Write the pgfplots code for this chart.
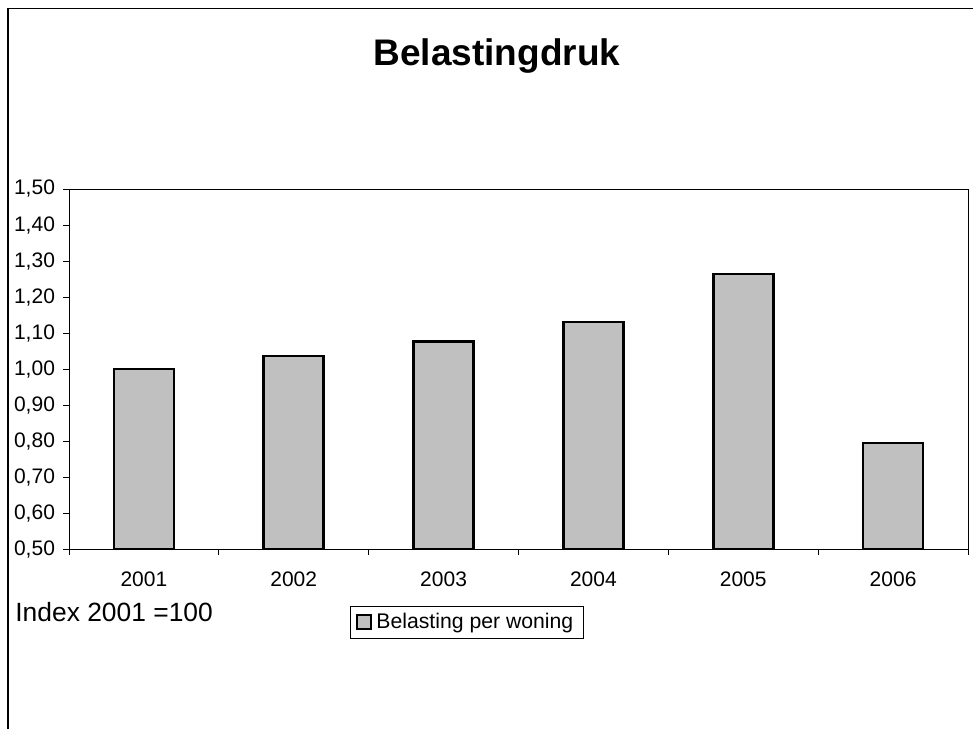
\documentclass[border=0pt]{standalone}
\usepackage{pgfplots}
\pgfplotsset{compat=1.18}
\usepackage{fontspec}
\setmainfont{Liberation Sans}
\definecolor{barfill}{RGB}{192,192,192}
\begin{document}
\begin{tikzpicture}
\path[use as bounding box, fill=white] (0,0) rectangle (486.5pt,-364.5pt);
% outer chart frame (top and left visible)
\draw[line width=0.6pt] (4pt,-364.5pt) -- (4pt,-4.25pt) -- (486.5pt,-4.25pt);
\node[font=\fontsize{18.5}{22}\selectfont\bfseries] at (248.5pt,-28pt) {Belastingdruk};
\node[anchor=base west, font=\fontsize{13.2}{16}\selectfont, inner sep=0pt] at (7.5pt,-310.5pt) {Index 2001 =100};
\begin{axis}[
  at={(34.5pt,-274.5pt)}, anchor=south west,
  scale only axis, width=449.5pt, height=180pt,
  xmin=-0.5, xmax=5.5, ymin=0.5, ymax=1.5,
  axis line style={line width=0.5pt},
  xtick={-0.5,0.5,1.5,2.5,3.5,4.5,5.5},
  x tick label as interval,
  xticklabels={2001,2002,2003,2004,2005,2006},
  xtick pos=bottom, ytick pos=left,
  ytick={0.5,0.6,...,1.51},
  tick align=outside, major tick length=3pt,
  tick style={line width=0.5pt, black},
  y tick label style={/pgf/number format/fixed, /pgf/number format/fixed zerofill, /pgf/number format/precision=2, /pgf/number format/use comma, xshift=-0.5pt},
  /pgf/number format/assume math mode=true,
  ticklabel style={font=\fontsize{10.5}{12}\selectfont},
  xticklabel style={yshift=-5pt},
  legend style={at={(0.3126,-0.158)}, anchor=north west, draw=black, line width=0.4pt,
    font=\fontsize{10.6}{12}\selectfont, inner xsep=3pt, inner ysep=1.5pt, row sep=0pt,
    legend cell align=left},
  legend image code/.code={\draw[fill=barfill, draw=black, line width=1pt] (0pt,-3.5pt) rectangle (7pt,3.5pt);},
  clip=false,
]
\addplot[ybar, bar width=30pt, fill=barfill, draw=black, line width=1.3pt] coordinates {
  (0,1.000) (1,1.036) (2,1.077) (3,1.131) (4,1.264) (5,0.794)
};
\addlegendentry{Belasting per woning}
\end{axis}
\end{tikzpicture}
\end{document}
